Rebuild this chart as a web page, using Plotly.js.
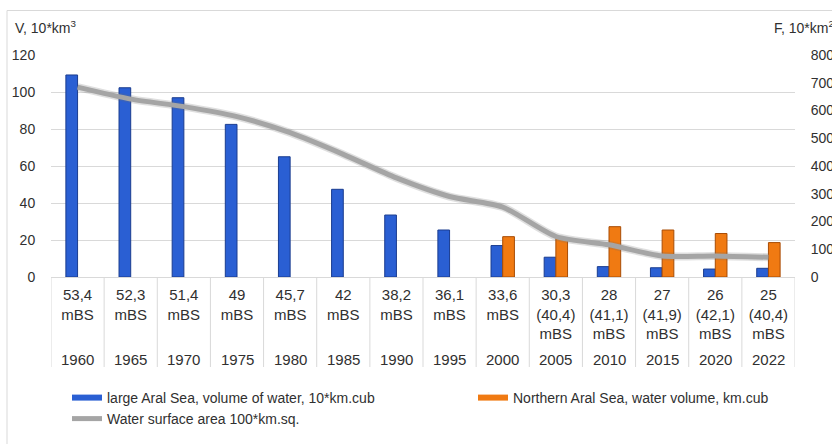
<!DOCTYPE html>
<html>
<head>
<meta charset="utf-8">
<script src="https://cdn.plot.ly/plotly-3.0.1.min.js"></script>
<style>html,body{margin:0;padding:0;background:#fff;}#chart{width:832px;height:444px;}</style>
</head>
<body>
<div id="chart"></div>
<script>
// ---- data ----
var years = ['1960','1965','1970','1975','1980','1985','1990','1995','2000','2005','2010','2015','2020','2022'];
var largeLevel = ['53,4','52,3','51,4','49','45,7','42','38,2','36,1','33,6','30,3','28','27','26','25'];
var northLevel = [null,null,null,null,null,null,null,null,null,'40,4','41,1','41,9','42,1','40,4'];
var largeVolume = [109.2, 102.3, 96.9, 82.5, 65, 47.4, 33.5, 25.4, 17, 10.7, 5.6, 5, 4.3, 4.7];
var northVolume = [null,null,null,null,null,null,null,null, 21.8, 21, 27.2, 25.4, 23.5, 18.6];
var surfaceArea = [684, 641, 614, 578, 520, 442, 357, 290, 252, 146, 116, 76, 76, 71];
var nameLarge = 'large Aral Sea, volume of water, 10*km.cub';
var nameNorth = 'Northern Aral Sea, water volume, km.cub';
var nameArea = 'Water surface area 100*km.sq.';

// ---- derived ----
var cats = years.map(function(y, i){ return 'c' + i; });
var tickText = largeLevel.map(function(v, i){
  return northLevel[i] ? v + '<br>(' + northLevel[i] + ')<br>mBS' : v + '<br>mBS';
});

var W = 832, H = 444, mL = 51, mR = 37, mT = 55, mB = 167;
var pw = W - mL - mR, ph = H - mT - mB;
function px(x){ return (x - mL) / pw; }
function py(y){ return (H - mB - y) / ph; }

var blue = '#2a5fd3', blueEdge = '#1a3c8f';
var orange = '#f07a12', orangeEdge = '#a84c05';
var grey = '#a5a5a5';
var txt = '#303030';
var font = 'Liberation Sans, Arial, sans-serif';

var traces = [
  {type:'bar', x:cats, y:largeVolume, name:nameLarge, showlegend:false,
   marker:{color:blue, line:{color:blueEdge, width:1}}, hoverinfo:'skip'},
  {type:'bar', x:cats, y:northVolume, name:nameNorth, showlegend:false,
   marker:{color:orange, line:{color:orangeEdge, width:1}}, hoverinfo:'skip'},
  {type:'scatter', mode:'lines', x:cats, y:surfaceArea, yaxis:'y2', name:nameArea, showlegend:false,
   line:{color:'rgba(110,110,110,0.22)', width:8, shape:'spline', smoothing:0.7}, hoverinfo:'skip'},
  {type:'scatter', mode:'lines', x:cats, y:surfaceArea, yaxis:'y2', name:nameArea,
   line:{color:grey, width:5, shape:'spline', smoothing:0.7}, legend:'legend2', hoverinfo:'skip'},
  // legend proxies (flat bar symbols)
  {type:'scatter', mode:'lines', x:[null], y:[null], name:nameLarge,
   line:{color:blue, width:6}, legend:'legend'},
  {type:'scatter', mode:'lines', x:[null], y:[null], name:nameNorth,
   line:{color:orange, width:6}, legend:'legend3'}
];

var shapes = [];
// table separators at category boundaries
for (var i = 0; i <= cats.length; i++) {
  shapes.push({type:'line', xref:'x', yref:'paper', x0:i - 0.5, x1:i - 0.5, y0:0, y1:py(367),
    line:{color:'#d9d9d9', width:1}});
}
// outer frame
shapes.push({type:'rect', xref:'paper', yref:'paper', x0:px(7), x1:px(845), y0:py(10.5), y1:py(460),
  line:{color:'#d9d9d9', width:1}, fillcolor:'rgba(0,0,0,0)'});

var annotations = years.map(function(y, i){
  return {xref:'x', yref:'paper', x:cats[i], y:py(359), text:y, showarrow:false,
    xanchor:'center', yanchor:'middle', font:{family:font, size:15, color:txt}};
});
annotations.push({xref:'paper', yref:'paper', x:px(13), y:py(27), text:'V, 10*km<sup>3</sup>',
  showarrow:false, xanchor:'left', yanchor:'middle', font:{family:font, size:14, color:txt}});
annotations.push({xref:'paper', yref:'paper', x:px(836), y:py(27), text:'F, 10*km<sup>2</sup>',
  showarrow:false, xanchor:'right', yanchor:'middle', font:{family:font, size:14, color:txt}});

var legendBase = {orientation:'h', xanchor:'left', yanchor:'top', bgcolor:'rgba(0,0,0,0)',
  font:{family:font, size:14, color:txt}, itemclick:false, itemdoubleclick:false};

var layout = {
  width:W, height:H,
  margin:{l:mL, r:mR, t:mT, b:mB, pad:0, autoexpand:false},
  paper_bgcolor:'#fff', plot_bgcolor:'#fff',
  font:{family:font, size:14, color:txt},
  barmode:'group', bargap:0.56, bargroupgap:0,
  xaxis:{type:'category', categoryorder:'array', categoryarray:cats,
    tickvals:cats, ticktext:tickText, showgrid:false, zeroline:false,
    showline:true, linecolor:'#d9d9d9', linewidth:1, automargin:false,
    ticks:'outside', ticklen:4, tickcolor:'rgba(0,0,0,0)',
    tickfont:{family:font, size:15, color:txt}, range:[-0.5, cats.length - 0.5], fixedrange:true},
  yaxis:{range:[0,120], dtick:20, tick0:0, showgrid:true, gridcolor:'#d9d9d9', gridwidth:1,
    zeroline:false, showline:false, ticks:'outside', ticklen:12, tickcolor:'rgba(0,0,0,0)', automargin:false,
    tickfont:{family:font, size:14, color:txt}, fixedrange:true},
  yaxis2:{range:[0,800], dtick:100, tick0:0, overlaying:'y', side:'right', showgrid:false,
    zeroline:false, showline:false, ticks:'outside', ticklen:12, tickcolor:'rgba(0,0,0,0)', automargin:false,
    tickfont:{family:font, size:14, color:txt}, fixedrange:true},
  legend:Object.assign({}, legendBase, {x:px(67), y:py(382)}),
  legend2:Object.assign({}, legendBase, {x:px(67), y:py(403)}),
  legend3:Object.assign({}, legendBase, {x:px(473), y:py(382)}),
  shapes:shapes,
  annotations:annotations
};

Plotly.newPlot('chart', traces, layout, {displayModeBar:false, staticPlot:true});
</script>
</body>
</html>
